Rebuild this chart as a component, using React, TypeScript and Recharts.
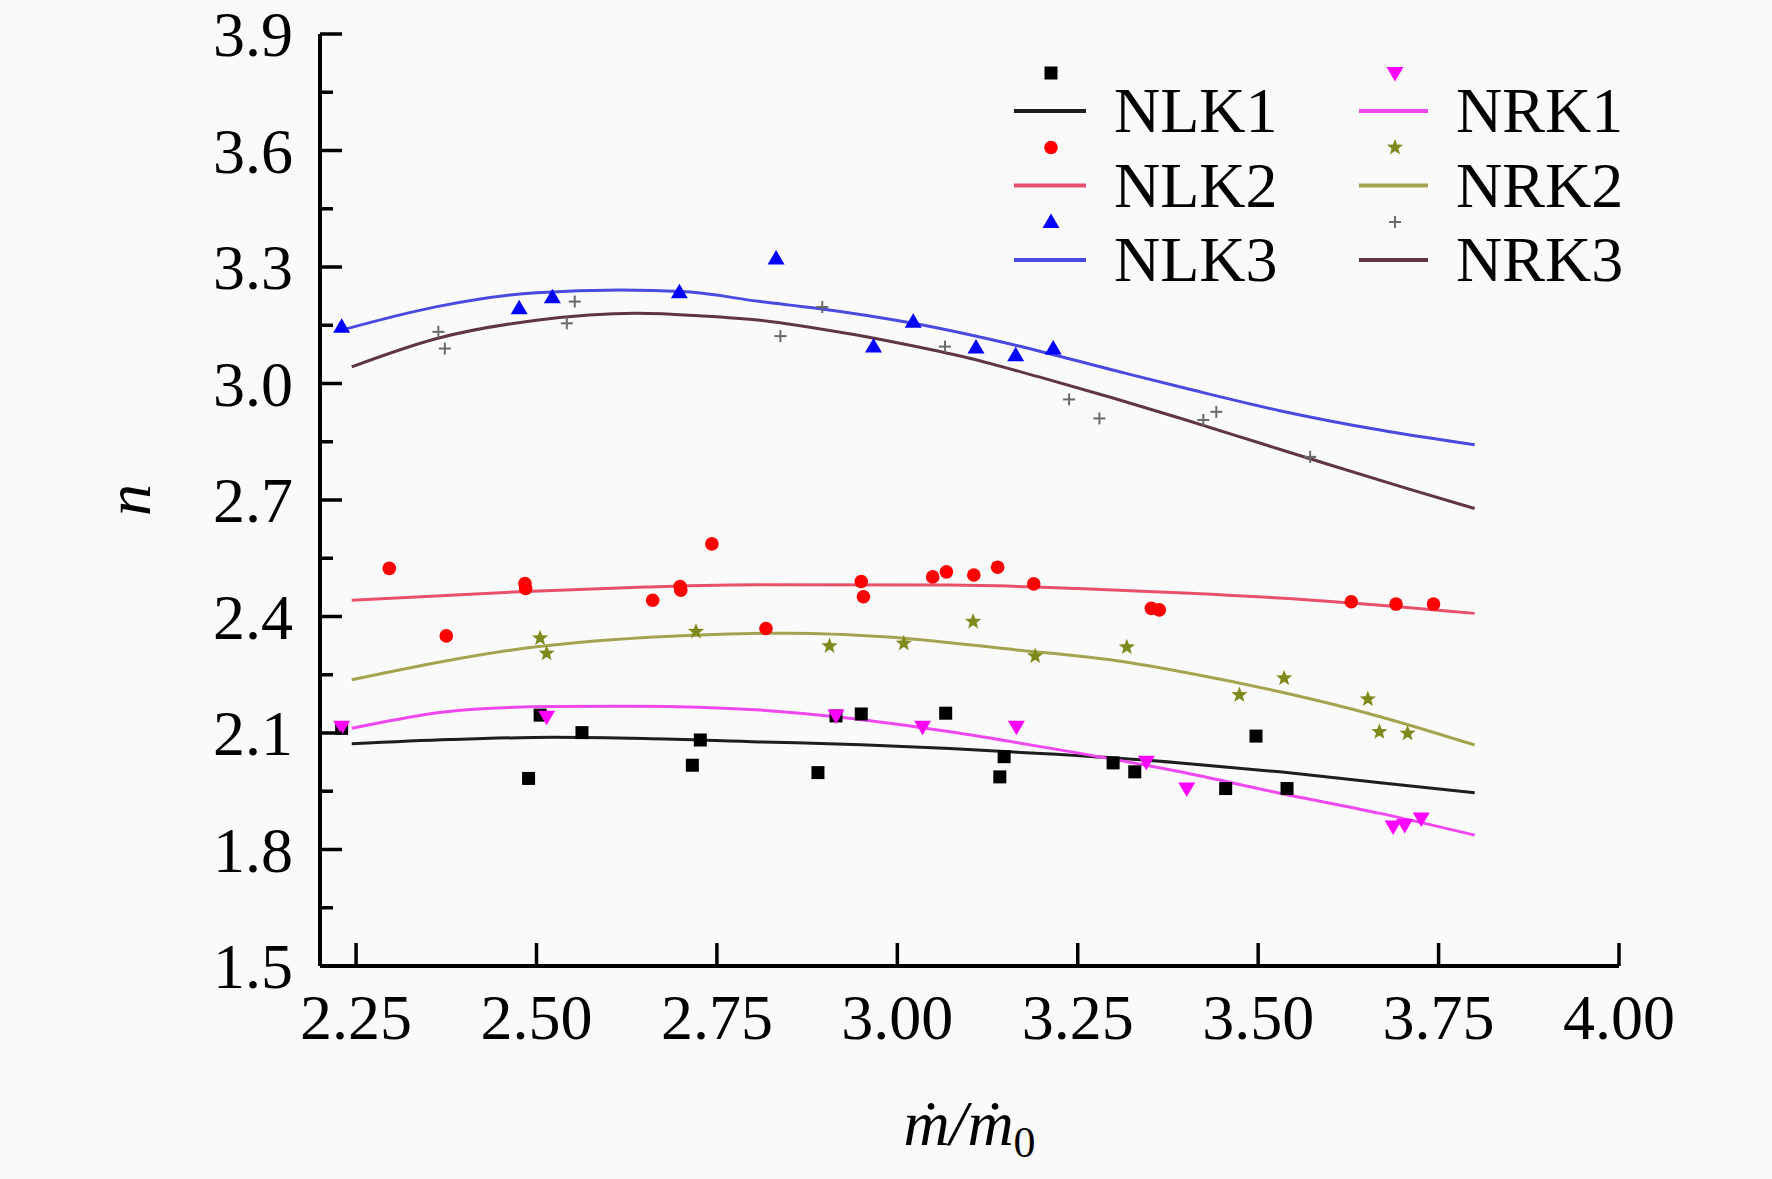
import React from "react";
import { ComposedChart, Line, Scatter, XAxis, YAxis, Legend } from "recharts";

const FONT = "'Liberation Serif', 'Times New Roman', 'DejaVu Serif', serif";

const X_TICKS = [2.25, 2.5, 2.75, 3.0, 3.25, 3.5, 3.75, 4.0];
const Y_MAJOR = [1.5, 1.8, 2.1, 2.4, 2.7, 3.0, 3.3, 3.6, 3.9];
const Y_MINOR = [1.65, 1.95, 2.25, 2.55, 2.85, 3.15, 3.45, 3.75];

// measured points [x, n]
const nlk1Points = [
  [2.23, 2.112], [2.489, 1.983], [2.505, 2.146], [2.563, 2.101], [2.716, 2.017],
  [2.727, 2.082], [2.89, 1.998], [2.915, 2.144], [2.95, 2.149], [3.067, 2.151],
  [3.142, 1.987], [3.148, 2.039], [3.299, 2.023], [3.329, 2.0], [3.455, 1.957],
  [3.497, 2.092], [3.54, 1.957],
];
const nlk2Points = [
  [2.296, 2.524], [2.375, 2.35], [2.484, 2.485], [2.485, 2.472], [2.661, 2.442],
  [2.699, 2.477], [2.7, 2.468], [2.743, 2.587], [2.818, 2.369], [2.95, 2.49],
  [2.953, 2.451], [3.049, 2.502], [3.068, 2.515], [3.106, 2.507], [3.139, 2.527],
  [3.189, 2.484], [3.352, 2.421], [3.363, 2.417], [3.629, 2.438], [3.691, 2.432],
  [3.743, 2.432],
];
const nlk3Points = [
  [2.23, 3.146], [2.476, 3.194], [2.522, 3.222], [2.698, 3.235], [2.832, 3.322],
  [2.967, 3.095], [3.022, 3.159], [3.109, 3.093], [3.164, 3.073], [3.216, 3.09],
];
const nrk1Points = [
  [2.23, 2.116], [2.514, 2.142], [2.915, 2.145], [3.035, 2.116], [3.165, 2.116],
  [3.345, 2.026], [3.401, 1.957], [3.687, 1.859], [3.703, 1.863], [3.726, 1.88],
];
const nrk2Points = [
  [2.505, 2.344], [2.514, 2.305], [2.721, 2.361], [2.906, 2.324], [3.009, 2.331],
  [3.105, 2.387], [3.191, 2.298], [3.318, 2.321], [3.474, 2.198], [3.536, 2.241],
  [3.652, 2.187], [3.668, 2.103], [3.707, 2.099],
];
const nrk3Points = [
  [2.364, 3.133], [2.373, 3.09], [2.542, 3.155], [2.553, 3.211], [2.838, 3.122],
  [2.896, 3.197], [3.066, 3.095], [3.238, 2.959], [3.28, 2.91], [3.424, 2.906],
  [3.442, 2.927], [3.572, 2.811],
];

// fitted curves [x, n]
const nlk1Fit = [
  [2.244, 2.072], [2.38, 2.083], [2.523, 2.089], [2.65, 2.086], [2.81, 2.077],
  [2.95, 2.07], [3.073, 2.06], [3.22, 2.045], [3.392, 2.023], [3.53, 2.0],
  [3.669, 1.972], [3.8, 1.946],
];
const nlk2Fit = [
  [2.244, 2.442], [2.477, 2.464], [2.65, 2.476], [2.81, 2.482], [3.073, 2.481],
  [3.25, 2.472], [3.405, 2.46], [3.576, 2.442], [3.8, 2.408],
];
const nlk3Fit = [
  [2.235, 3.14], [2.362, 3.198], [2.5, 3.234], [2.616, 3.241], [2.708, 3.236],
  [2.81, 3.211], [2.888, 3.194], [3.022, 3.155], [3.165, 3.098], [3.304, 3.032],
  [3.405, 2.985], [3.53, 2.93], [3.669, 2.88], [3.8, 2.842],
];
const nrk1Fit = [
  [2.244, 2.112], [2.399, 2.159], [2.523, 2.168], [2.639, 2.169], [2.81, 2.159],
  [2.934, 2.138], [3.073, 2.103], [3.211, 2.061], [3.392, 2.0], [3.53, 1.945],
  [3.669, 1.893], [3.8, 1.837],
];
const nrk2Fit = [
  [2.244, 2.237], [2.5, 2.322], [2.717, 2.352], [2.85, 2.357], [2.981, 2.348],
  [3.165, 2.314], [3.304, 2.286], [3.405, 2.254], [3.53, 2.206], [3.669, 2.142],
  [3.8, 2.069],
];
const nrk3Fit = [
  [2.244, 3.043], [2.362, 3.116], [2.5, 3.163], [2.639, 3.181], [2.731, 3.174],
  [2.81, 3.163], [2.934, 3.128], [3.0, 3.105], [3.1, 3.065], [3.2, 3.015],
  [3.3, 2.962], [3.4, 2.906], [3.5, 2.848], [3.6, 2.79], [3.7, 2.733], [3.8, 2.678],
];

const toXY = (arr: number[][]) => arr.map(([x, y]) => ({ x, y }));

type Kind = "square" | "circle" | "up" | "down" | "star" | "plus";

const SERIES: { name: string; kind: Kind; color: string; line: string; points: number[][]; fit: number[][] }[] = [
  { name: "NLK1", kind: "square", color: "#000000", line: "#1e1e1e", points: nlk1Points, fit: nlk1Fit },
  { name: "NLK2", kind: "circle", color: "#ff0000", line: "#e8506c", points: nlk2Points, fit: nlk2Fit },
  { name: "NLK3", kind: "up", color: "#0000ff", line: "#4a4ae0", points: nlk3Points, fit: nlk3Fit },
  { name: "NRK1", kind: "down", color: "#ff00ff", line: "#f048f0", points: nrk1Points, fit: nrk1Fit },
  { name: "NRK2", kind: "star", color: "#7f8a1c", line: "#a4a450", points: nrk2Points, fit: nrk2Fit },
  { name: "NRK3", kind: "plus", color: "#6a6a6a", line: "#5e3644", points: nrk3Points, fit: nrk3Fit },
];

function Marker({ kind, cx, cy, color }: { kind: Kind; cx: number; cy: number; color: string }) {
  if (cx == null || cy == null) return null;
  switch (kind) {
    case "square":
      return <rect x={cx - 6.5} y={cy - 6.5} width={13} height={13} fill={color} />;
    case "circle":
      return <circle cx={cx} cy={cy} r={6.8} fill={color} />;
    case "up":
      return <polygon points={`${cx},${cy - 8.5} ${cx + 8.5},${cy + 6} ${cx - 8.5},${cy + 6}`} fill={color} />;
    case "down":
      return <polygon points={`${cx},${cy + 8.5} ${cx + 8.5},${cy - 6} ${cx - 8.5},${cy - 6}`} fill={color} />;
    case "star": {
      const pts: string[] = [];
      for (let i = 0; i < 10; i++) {
        const r = i % 2 === 0 ? 8.5 : 3.6;
        const a = -Math.PI / 2 + (i * Math.PI) / 5;
        pts.push(`${cx + r * Math.cos(a)},${cy + r * Math.sin(a)}`);
      }
      return <polygon points={pts.join(" ")} fill={color} />;
    }
    default:
      return (
        <g stroke={color} strokeWidth={2}>
          <line x1={cx - 6} x2={cx + 6} y1={cy} y2={cy} />
          <line x1={cx} x2={cx} y1={cy - 6} y2={cy + 6} />
        </g>
      );
  }
}

function YTick(props: any) {
  const { x, y, payload } = props;
  const major = Y_MAJOR.includes(payload.value);
  return (
    <g>
      <line x1={x} x2={x + (major ? 22 : 13)} y1={y} y2={y} stroke="#000" strokeWidth={3.5} />
      {major && (
        <text x={x - 27} y={y + 22} textAnchor="end" fontSize={64} fontFamily={FONT} fill="#000">
          {payload.value.toFixed(1)}
        </text>
      )}
    </g>
  );
}

function XTick(props: any) {
  const { x, y, payload } = props;
  return (
    <g>
      <line x1={x} x2={x} y1={y} y2={y - 23} stroke="#000" strokeWidth={3.5} />
      <text x={x} y={y + 73} textAnchor="middle" fontSize={64} fontFamily={FONT} fill="#000">
        {payload.value.toFixed(2)}
      </text>
    </g>
  );
}

function XLabel(props: any) {
  const vb = props.viewBox;
  return (
    <text x={vb.x + vb.width / 2} y={vb.y + 179} textAnchor="middle" fontSize={64} fontFamily={FONT} fill="#000">
      <tspan fontStyle="italic">ṁ/ṁ</tspan>
      <tspan fontSize={44} dy={12}>0</tspan>
    </text>
  );
}

function YLabel(props: any) {
  const vb = props.viewBox;
  const cx = vb.x - 124;
  const cy = vb.y + vb.height / 2;
  return (
    <text
      x={cx}
      y={cy}
      dy={14}
      transform={`rotate(-90 ${cx} ${cy})`}
      textAnchor="middle"
      fontSize={64}
      fontStyle="italic"
      fontFamily={FONT}
      fill="#000"
    >
      n
    </text>
  );
}

function LegendBox() {
  const rowGap = 74.5;
  const cols = [
    { marker: 61, x1: 24, x2: 96, text: 124 },
    { marker: 405, x1: 369, x2: 438, text: 466 },
  ];
  return (
    <svg width={560} height={260} style={{ overflow: "visible" }}>
      {SERIES.map((s, i) => {
        const c = cols[Math.floor(i / 3)];
        const r = i % 3;
        const my = 33 + r * rowGap;
        const ly = 71 + r * rowGap;
        const ty = 92 + r * rowGap;
        return (
          <g key={s.name}>
            <Marker kind={s.kind} cx={c.marker} cy={my} color={s.color} />
            <line x1={c.x1} x2={c.x2} y1={ly} y2={ly} stroke={s.line} strokeWidth={4} />
            <text x={c.text} y={ty} fontSize={64} fontFamily={FONT} fill="#000">
              {s.name}
            </text>
          </g>
        );
      })}
    </svg>
  );
}

export default function App() {
  return (
    <div style={{ position: "absolute", left: 0, top: 0, width: 1772, height: 1179, background: "#fafafa" }}>
      <ComposedChart width={1772} height={1179} margin={{ top: 34, right: 153, bottom: 153, left: 260 }}>
        <XAxis
          type="number"
          dataKey="x"
          domain={[2.2, 4.0]}
          allowDataOverflow
          ticks={X_TICKS}
          interval={0}
          height={60}
          tickSize={0}
          tickMargin={0}
          tickLine={false}
          axisLine={{ stroke: "#000", strokeWidth: 4 }}
          tick={<XTick />}
          label={(p: any) => <XLabel {...p} />}
        />
        <YAxis
          type="number"
          dataKey="y"
          domain={[1.5, 3.9]}
          allowDataOverflow
          ticks={[...Y_MAJOR, ...Y_MINOR].sort((a, b) => a - b)}
          interval={0}
          width={60}
          tickSize={0}
          tickMargin={0}
          tickLine={false}
          axisLine={{ stroke: "#000", strokeWidth: 4 }}
          tick={<YTick />}
          label={(p: any) => <YLabel {...p} />}
        />
        {SERIES.map((s) => (
          <Line
            key={s.name + "-fit"}
            data={toXY(s.fit)}
            dataKey="y"
            type="monotone"
            stroke={s.line}
            strokeWidth={3}
            dot={false}
            activeDot={false}
            isAnimationActive={false}
          />
        ))}
        {SERIES.map((s) => (
          <Scatter
            key={s.name + "-pts"}
            data={toXY(s.points)}
            dataKey="y"
            isAnimationActive={false}
            shape={(p: any) => <Marker kind={s.kind} cx={p.cx} cy={p.cy} color={s.color} />}
          />
        ))}
        <Legend
          layout="vertical"
          align="center"
          verticalAlign="middle"
          wrapperStyle={{ left: 990, top: 40, width: 560, height: 260 }}
          content={() => <LegendBox />}
        />
      </ComposedChart>
    </div>
  );
}
